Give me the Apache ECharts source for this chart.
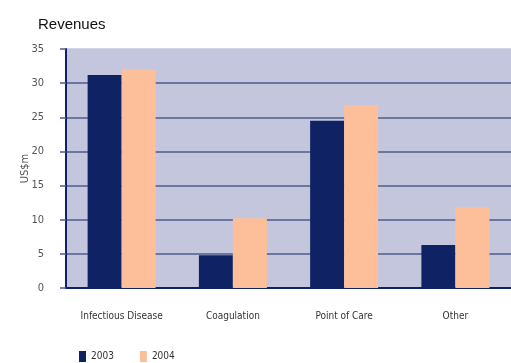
<!DOCTYPE html>
<html>
<head>
<meta charset="utf-8">
<script src="https://cdn.jsdelivr.net/npm/echarts@6/dist/echarts.min.js"></script>
<style>
    html, body { margin: 0; padding: 0; background: #ffffff; }
    #chart { width: 511px; height: 363px; }
</style>
</head>
<body>
<div id="chart"></div>
<script>
    // 数据
    var categories = ['Infectious Disease', 'Coagulation', 'Point of Care', 'Other'];
    var seriesNames = ['2003', '2004'];
    var values2003 = [31.2, 4.8, 24.5, 6.3];
    var values2004 = [32.0, 10.2, 26.8, 11.8];
    var yTicks = [0, 5, 10, 15, 20, 25, 30, 35];

    var narrowFont = '"Liberation Sans Narrow", "DejaVu Sans Condensed", sans-serif';
    var plotBg = '#c4c6de';
    var gridColor = '#4e5c8c';

    // 网格线颜色：顶部一条不显示
    var gridColors = yTicks.map(function (v, i) {
        return i === yTicks.length - 1 ? plotBg : gridColor;
    });

    var chart = echarts.init(document.getElementById('chart'));
    var option = {
        backgroundColor: '#ffffff',
        animation: false,
        title: {
            text: 'Revenues',
            left: 33,
            top: 12,
            textStyle: {
                fontFamily: '"Liberation Sans", Arial, sans-serif',
                fontSize: 15,
                fontWeight: 'normal',
                color: '#111111'
            }
        },
        legend: {
            left: 74,
            top: 346,
            itemWidth: 7,
            itemHeight: 11,
            itemGap: 26,
            icon: 'rect',
            textStyle: {
                fontFamily: narrowFont,
                fontSize: 10,
                color: '#333333'
            },
            data: seriesNames
        },
        grid: {
            left: 66,
            top: 49,
            width: 456,
            height: 239,
            show: true,
            backgroundColor: plotBg,
            borderWidth: 0
        },
        xAxis: {
            type: 'category',
            data: categories,
            axisLine: { lineStyle: { color: '#0f2263', width: 2 } },
            axisTick: { length: 9, lineStyle: { color: '#0f2263', width: 2 } },
            axisLabel: {
                margin: 23,
                fontFamily: narrowFont,
                fontSize: 10,
                color: '#333333'
            }
        },
        yAxis: {
            type: 'value',
            min: yTicks[0],
            max: yTicks[yTicks.length - 1],
            interval: 5,
            name: 'US$m',
            nameLocation: 'middle',
            nameRotate: 90,
            nameGap: 35,
            nameMoveOverlap: false,
            nameTextStyle: {
                fontFamily: narrowFont,
                fontSize: 11,
                color: '#555555'
            },
            axisLine: { show: true, lineStyle: { color: '#0f2263', width: 2 } },
            axisTick: { show: true, length: 6, lineStyle: { color: gridColor, width: 1.5 } },
            axisLabel: {
                margin: 22,
                fontFamily: narrowFont,
                fontSize: 11,
                color: '#555555'
            },
            splitLine: { lineStyle: { color: gridColors, width: 1.5 } }
        },
        series: [
            {
                name: seriesNames[0],
                type: 'bar',
                barWidth: 34,
                barGap: '0%',
                itemStyle: { color: '#0f2263' },
                data: values2003
            },
            {
                name: seriesNames[1],
                type: 'bar',
                barWidth: 34,
                barGap: '0%',
                itemStyle: { color: '#fcbf9a' },
                data: values2004
            }
        ]
    };
    chart.setOption(option);
</script>
</body>
</html>
